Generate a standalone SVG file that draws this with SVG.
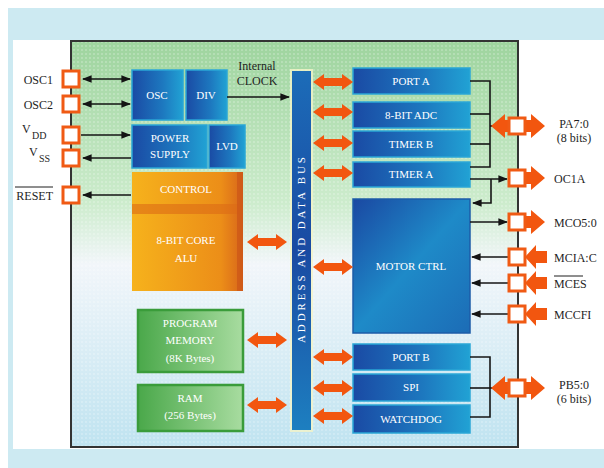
<svg xmlns="http://www.w3.org/2000/svg" width="604" height="468" viewBox="0 0 604 468">
<defs>
<style>
.lbl{font-family:"Liberation Serif","Times New Roman",serif;font-size:12px;fill:#1e1e1e}
.sub{font-family:"Liberation Serif","Times New Roman",serif;font-size:10px;fill:#1e1e1e}
.blk{font-family:"Liberation Serif","Times New Roman",serif;font-size:11px;fill:#ffffff;text-anchor:middle}
.pin{fill:#ffffff;stroke:#f05a14;stroke-width:3}
.wire{stroke:#141414;stroke-width:1.6;fill:none}
.oa{fill:#f2560f}
.blue{fill:url(#gBlue);stroke:#2aa6d6;stroke-width:1.5}
.green{fill:url(#gGreen);stroke:#3a9c3a;stroke-width:2.5}
</style>
<linearGradient id="gChip" x1="0" y1="0" x2="0" y2="1">
<stop offset="0" stop-color="#9ed49e"/>
<stop offset="0.4" stop-color="#cdeccd"/>
<stop offset="0.55" stop-color="#f2f6fa"/>
<stop offset="1" stop-color="#bfe3f0"/>
</linearGradient>
<linearGradient id="gBlue" x1="0" y1="0" x2="1" y2="0">
<stop offset="0" stop-color="#1a4aa4"/>
<stop offset="0.6" stop-color="#1d78bf"/>
<stop offset="1" stop-color="#21a2d4"/>
</linearGradient>
<linearGradient id="gMotor" x1="0" y1="0" x2="1" y2="1">
<stop offset="0" stop-color="#1a48a2"/>
<stop offset="0.5" stop-color="#1e8ac8"/>
<stop offset="1" stop-color="#1c6cb6"/>
</linearGradient>
<linearGradient id="gBus" x1="0" y1="0" x2="0" y2="1">
<stop offset="0" stop-color="#1c6cb8"/>
<stop offset="0.5" stop-color="#1a4aa2"/>
<stop offset="1" stop-color="#1d7fc0"/>
</linearGradient>
<linearGradient id="gOrange" x1="0" y1="0" x2="1" y2="0">
<stop offset="0" stop-color="#f6b21c"/>
<stop offset="0.8" stop-color="#ec8e18"/>
<stop offset="1" stop-color="#d8661a"/>
</linearGradient>
<linearGradient id="gGreen" x1="0" y1="0" x2="1" y2="0">
<stop offset="0" stop-color="#4aa84a"/>
<stop offset="1" stop-color="#a8dca0"/>
</linearGradient>
<pattern id="dots" width="4" height="4" patternUnits="userSpaceOnUse">
<circle cx="2" cy="2" r="0.7" fill="#ffffff" fill-opacity="0.55"/>
</pattern>
<marker id="ah" viewBox="0 0 10 10" refX="9" refY="5" markerWidth="6" markerHeight="6" orient="auto-start-reverse">
<path d="M0,1 L10,5 L0,9 z" fill="#141414"/>
</marker>
<polygon id="dbl" points="0,0 11,-8 11,-4 29,-4 29,-8 40,0 29,8 29,4 11,4 11,8"/>
<polygon id="dblBig" points="0,0 14,-12 14,-6 40,-6 40,-12 54,0 40,12 40,6 14,6 14,12"/>
<polygon id="outA" points="0,-6 14,-6 14,-12 28,0 14,12 14,6 0,6"/>
<polygon id="inA" points="0,0 11,-12 11,-6 22,-6 22,6 11,6 11,12"/>
</defs>

<!-- background -->
<rect x="0" y="0" width="604" height="468" fill="#ffffff"/>
<rect x="8" y="8" width="596" height="460" fill="#cdeaf2"/>
<rect x="13" y="40" width="591" height="409" fill="#ffffff"/>

<!-- chip -->
<g id="chip">
<rect x="71" y="41" width="447" height="406" fill="url(#gChip)" stroke="#333333" stroke-width="2"/>
<rect x="72" y="42" width="445" height="404" fill="url(#dots)"/>
</g>

<!-- left pins -->
<g id="pin-osc1"><rect class="pin" x="63" y="71" width="16" height="16"/><text class="lbl" x="53" y="84" text-anchor="end">OSC1</text></g>
<g id="pin-osc2"><rect class="pin" x="63" y="96" width="16" height="16"/><text class="lbl" x="53" y="109" text-anchor="end">OSC2</text></g>
<g id="pin-vdd"><rect class="pin" x="63" y="127" width="16" height="16"/><text class="lbl" x="22" y="133">V</text><text class="sub" x="32" y="139">DD</text></g>
<g id="pin-vss"><rect class="pin" x="63" y="150" width="16" height="16"/><text class="lbl" x="29" y="156">V</text><text class="sub" x="39" y="162">SS</text></g>
<g id="pin-reset"><rect class="pin" x="63" y="187" width="16" height="16"/><text class="lbl" x="53" y="200" text-anchor="end">RESET</text><line x1="15" y1="187" x2="53" y2="187" stroke="#1e1e1e" stroke-width="1"/></g>

<!-- left blocks -->
<g id="osc"><rect class="blue" x="132" y="70" width="51" height="50"/><text class="blk" x="157" y="99">OSC</text></g>
<g id="div"><rect class="blue" x="186" y="70" width="41" height="50"/><text class="blk" x="206" y="99">DIV</text></g>
<g id="power"><rect class="blue" x="132" y="125" width="75" height="43"/><text class="blk" x="170" y="142">POWER</text><text class="blk" x="170" y="158">SUPPLY</text></g>
<g id="lvd"><rect class="blue" x="209" y="125" width="36" height="43"/><text class="blk" x="227" y="150">LVD</text></g>
<g id="core">
<rect x="132" y="172" width="111" height="119" fill="url(#gOrange)"/>
<rect x="132" y="204" width="111" height="10" fill="#dc6a16" fill-opacity="0.6"/>
<rect x="237" y="172" width="6" height="119" fill="#cc5518" fill-opacity="0.7"/>
<text class="blk" x="186" y="193">CONTROL</text>
<text class="blk" x="186" y="244">8-BIT CORE</text>
<text class="blk" x="186" y="262">ALU</text>
</g>
<g id="progmem"><rect class="green" x="138" y="310" width="105" height="62"/><text class="blk" x="190" y="327">PROGRAM</text><text class="blk" x="190" y="344">MEMORY</text><text class="blk" x="190" y="362">(8K Bytes)</text></g>
<g id="ram"><rect class="green" x="138" y="385" width="105" height="46"/><text class="blk" x="190" y="402">RAM</text><text class="blk" x="190" y="419">(256 Bytes)</text></g>

<!-- bus -->
<g id="bus">
<rect x="290" y="69" width="23" height="363" fill="#f4f4c8" fill-opacity="0.8"/>
<rect x="292" y="71" width="19" height="359" fill="url(#gBus)"/>
<text class="blk" transform="translate(305,250) rotate(-90)" font-size="12" textLength="186" lengthAdjust="spacing">ADDRESS AND DATA BUS</text>
</g>
<g id="clocklabel"><text class="lbl" x="257" y="70" text-anchor="middle" font-size="11">Internal</text><text class="lbl" x="257" y="85" text-anchor="middle" font-size="11">CLOCK</text></g>

<!-- right blocks -->
<g id="porta"><rect class="blue" x="353" y="68" width="117" height="26"/><text class="blk" x="411" y="85">PORT A</text></g>
<g id="adc"><rect class="blue" x="353" y="102" width="117" height="26"/><text class="blk" x="411" y="119">8-BIT ADC</text></g>
<g id="timerb"><rect class="blue" x="353" y="131" width="117" height="26"/><text class="blk" x="411" y="148">TIMER B</text></g>
<g id="timera"><rect class="blue" x="353" y="162" width="117" height="25"/><text class="blk" x="411" y="178">TIMER A</text></g>
<g id="motor"><rect x="353" y="199" width="117" height="134" fill="url(#gMotor)" stroke="#1c5ca8" stroke-width="1.5"/><text class="blk" x="411" y="270">MOTOR CTRL</text></g>
<g id="portb"><rect class="blue" x="353" y="344" width="117" height="26"/><text class="blk" x="411" y="361">PORT B</text></g>
<g id="spi"><rect class="blue" x="353" y="374" width="117" height="27"/><text class="blk" x="411" y="391">SPI</text></g>
<g id="watchdog"><rect class="blue" x="353" y="405" width="117" height="28"/><text class="blk" x="411" y="423">WATCHDOG</text></g>

<!-- connectors -->
<g id="connectors">
<line class="wire" x1="83" y1="79" x2="130" y2="79" marker-start="url(#ah)" marker-end="url(#ah)"/>
<line class="wire" x1="83" y1="104" x2="130" y2="104" marker-start="url(#ah)" marker-end="url(#ah)"/>
<line class="wire" x1="81" y1="135" x2="130" y2="135" marker-end="url(#ah)"/>
<line class="wire" x1="131" y1="158" x2="83" y2="158" marker-end="url(#ah)"/>
<line class="wire" x1="131" y1="195" x2="83" y2="195" marker-end="url(#ah)"/>
<line class="wire" x1="227" y1="97" x2="289" y2="97" marker-end="url(#ah)"/>

<g class="oa">
<use href="#dbl" transform="translate(247,242)"/>
<use href="#dbl" transform="translate(247,340)"/>
<use href="#dbl" transform="translate(247,405)"/>
<use href="#dbl" transform="translate(313,82)"/>
<use href="#dbl" transform="translate(313,112)"/>
<use href="#dbl" transform="translate(313,143)"/>
<use href="#dbl" transform="translate(313,173)"/>
<use href="#dbl" transform="translate(313,267)"/>
<use href="#dbl" transform="translate(313,357)"/>
<use href="#dbl" transform="translate(313,388)"/>
<use href="#dbl" transform="translate(313,416)"/>
</g>

<polyline class="wire" points="470,81 490,81 490,167 470,167"/>
<line class="wire" x1="470" y1="114" x2="490" y2="114"/>
<line class="wire" x1="470" y1="144" x2="490" y2="144"/>
<line class="wire" x1="490" y1="126" x2="500" y2="126"/>
<line class="wire" x1="470" y1="179" x2="507" y2="179" marker-end="url(#ah)"/>
<polyline class="wire" points="491,179 491,203 473,203" marker-end="url(#ah)"/>
<line class="wire" x1="470" y1="222" x2="507" y2="222" marker-end="url(#ah)"/>
<line class="wire" x1="509" y1="257" x2="472" y2="257" marker-end="url(#ah)"/>
<line class="wire" x1="509" y1="283" x2="472" y2="283" marker-end="url(#ah)"/>
<line class="wire" x1="509" y1="314" x2="472" y2="314" marker-end="url(#ah)"/>
<polyline class="wire" points="470,357 490,357 490,417 470,417"/>
<line class="wire" x1="470" y1="388" x2="500" y2="388"/>
</g>

<!-- right pins -->
<g id="pin-pa"><use href="#dblBig" class="oa" transform="translate(491,126)"/><rect class="pin" x="509" y="118" width="16" height="16"/><text class="lbl" x="574" y="128" text-anchor="middle">PA7:0</text><text class="lbl" x="574" y="142" text-anchor="middle">(8 bits)</text></g>
<g id="pin-oc1a"><use href="#outA" class="oa" transform="translate(517,178)"/><rect class="pin" x="509" y="170" width="16" height="16"/><text class="lbl" x="554" y="183">OC1A</text></g>
<g id="pin-mco"><use href="#outA" class="oa" transform="translate(517,222)"/><rect class="pin" x="509" y="214" width="16" height="16"/><text class="lbl" x="554" y="227">MCO5:0</text></g>
<g id="pin-mcia"><use href="#inA" class="oa" transform="translate(525,257)"/><rect class="pin" x="509" y="249" width="16" height="16"/><text class="lbl" x="554" y="262">MCIA:C</text></g>
<g id="pin-mces"><use href="#inA" class="oa" transform="translate(525,283)"/><rect class="pin" x="509" y="275" width="16" height="16"/><text class="lbl" x="554" y="288">MCES</text><line x1="554" y1="276" x2="583" y2="276" stroke="#1e1e1e" stroke-width="1"/></g>
<g id="pin-mccfi"><use href="#inA" class="oa" transform="translate(525,314)"/><rect class="pin" x="509" y="306" width="16" height="16"/><text class="lbl" x="554" y="319">MCCFI</text></g>
<g id="pin-pb"><use href="#dblBig" class="oa" transform="translate(491,388)"/><rect class="pin" x="509" y="380" width="16" height="16"/><text class="lbl" x="574" y="389" text-anchor="middle">PB5:0</text><text class="lbl" x="574" y="403" text-anchor="middle">(6 bits)</text></g>
</svg>
